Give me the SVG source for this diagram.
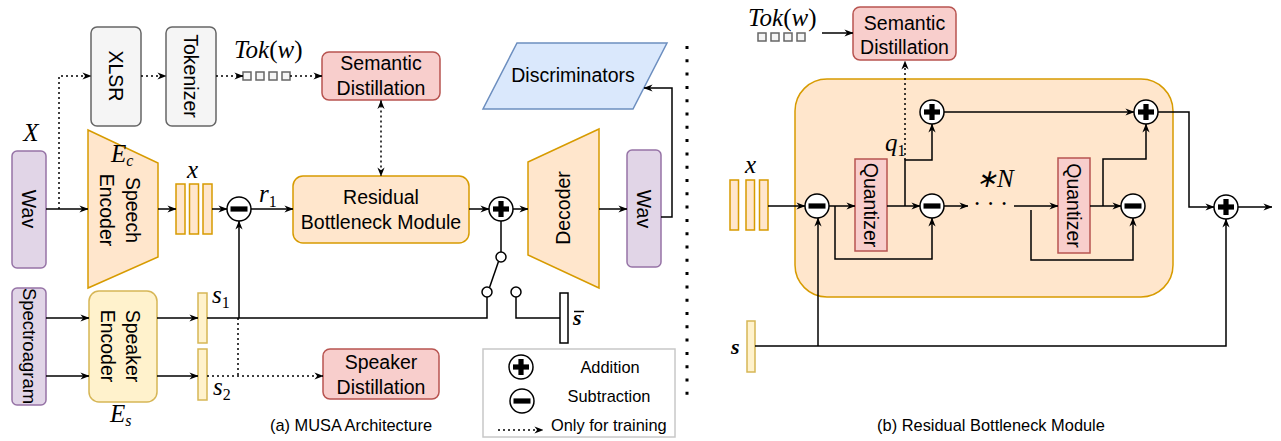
<svg xmlns="http://www.w3.org/2000/svg" width="1281" height="441" viewBox="0 0 1281 441">
<style>
.t{font-family:"Liberation Sans",Arial,sans-serif;font-size:19.5px;fill:#000}
.tc{text-anchor:middle}
.lg{font-family:"Liberation Sans",Arial,sans-serif;font-size:16.4px;fill:#000}
.m{font-family:"Liberation Serif","Times New Roman",serif;font-style:italic;font-size:25px;fill:#000}
.up{font-style:normal}
.sub{font-size:16px;font-style:normal}
.subi{font-size:16px}
.purple{fill:#e1d5e7;stroke:#9673a6;stroke-width:1.5}
.orange{fill:#ffe6cc;stroke:#d79b00;stroke-width:1.5}
.red{fill:#f8cecc;stroke:#b85450;stroke-width:1.5}
.yellow{fill:#fff2cc;stroke:#d6b656;stroke-width:1.5}
.gray{fill:#f5f5f5;stroke:#666666;stroke-width:1.5}
.blue{fill:#dae8fc;stroke:#6c8ebf;stroke-width:1.5}
.ln{fill:none;stroke:#000;stroke-width:1.5}
.dot{fill:none;stroke:#000;stroke-width:1.5;stroke-dasharray:2 3}
.arr{marker-end:url(#ah)}
</style>
<defs>
<marker id="ah" viewBox="0 0 10 10" refX="9.5" refY="5" markerWidth="9" markerHeight="9" markerUnits="userSpaceOnUse" orient="auto-start-reverse">
<path d="M0,1 L10,5 L0,9 L3,5 Z" fill="#000"/>
</marker>
<g id="opPlus"><circle r="12" fill="#fff" stroke="#000" stroke-width="1.5"/><rect x="-8" y="-2.6" width="16" height="5.2" fill="#000"/><rect x="-2.6" y="-8" width="5.2" height="16" fill="#000"/></g>
<g id="opMinus"><circle r="12" fill="#fff" stroke="#000" stroke-width="1.5"/><rect x="-8.5" y="-2.6" width="17" height="5.2" fill="#000"/></g>
</defs>
<rect width="1281" height="441" fill="#fff"/>

<!-- ===== (a) MUSA Architecture ===== -->
<g id="wav-in">
<rect class="purple" x="12" y="151" width="34" height="117" rx="5"/>
<text class="t tc" x="29" y="209" dominant-baseline="central" transform="rotate(90 29 209)">Wav</text>
<text class="m tc" x="31" y="141">X</text>
</g>
<g id="xlsr">
<rect class="gray" x="91" y="27" width="50" height="99" rx="6"/>
<text class="t tc" x="116" y="76" dominant-baseline="central" transform="rotate(90 116 76)">XLSR</text>
</g>
<g id="tokenizer">
<rect class="gray" x="166" y="27" width="50" height="99" rx="6"/>
<text class="t tc" x="191" y="76" dominant-baseline="central" transform="rotate(90 191 76)">Tokenizer</text>
</g>
<g id="tok-a">
<text class="m" x="234" y="58">Tok<tspan class="up">(</tspan>w<tspan class="up">)</tspan></text>
<rect class="gray" x="243" y="72" width="8" height="8"/>
<rect class="gray" x="256" y="72" width="8" height="8"/>
<rect class="gray" x="269" y="72" width="8" height="8"/>
<rect class="gray" x="282" y="72" width="8" height="8"/>
</g>
<g id="semantic-a">
<rect class="red" x="322" y="52" width="118" height="48" rx="7"/>
<text class="t tc" x="381" y="70">Semantic</text>
<text class="t tc" x="381" y="95">Distillation</text>
</g>
<g id="speech-encoder">
<path class="orange" d="M88,130 L158,163 L158,257 L88,288 Z"/>
<text class="t tc" x="120" y="210" dominant-baseline="central" transform="rotate(90 120 210)"><tspan x="120" dy="-13">Speech</tspan><tspan x="120" dy="26">Encoder</tspan></text>
<text class="m" x="111" y="162">E<tspan class="subi" dy="4">c</tspan></text>
</g>
<g id="x-a">
<rect class="orange" x="176" y="184" width="9" height="50"/>
<rect class="orange" x="189.5" y="184" width="9" height="50"/>
<rect class="orange" x="203" y="184" width="9" height="50"/>
<text class="m" x="187" y="178">x</text>
</g>
<g id="minus-a"><use href="#opMinus" x="239" y="209"/></g>
<text class="m" x="259" y="202">r<tspan class="sub" dy="5">1</tspan></text>
<g id="rbm-a">
<rect class="orange" x="293" y="176" width="176" height="67" rx="10"/>
<text class="t tc" x="381" y="204">Residual</text>
<text class="t tc" x="381" y="229">Bottleneck Module</text>
</g>
<g id="plus-a"><use href="#opPlus" x="501" y="209"/></g>
<g id="decoder">
<path class="orange" d="M528,162 L599,129 L599,288 L528,255 Z"/>
<text class="t tc" x="563" y="208" dominant-baseline="central" transform="rotate(-90 563 208)">Decoder</text>
</g>
<g id="wav-out">
<rect class="purple" x="627" y="150" width="34" height="117" rx="5"/>
<text class="t tc" x="644" y="209" dominant-baseline="central" transform="rotate(90 644 209)">Wav</text>
</g>
<g id="discriminators">
<path class="blue" d="M517,43 L667,43 L633,109 L483,109 Z"/>
<text class="t tc" x="573" y="82">Discriminators</text>
</g>
<g id="spectrogram">
<rect class="purple" x="12" y="288" width="34" height="117" rx="5"/>
<text class="t tc" x="29" y="346" dominant-baseline="central" style="font-size:18.5px" transform="rotate(90 29 346)">Spectroagram</text>
</g>
<g id="speaker-encoder">
<rect class="yellow" x="89" y="291" width="68" height="111" rx="10"/>
<text class="t tc" x="120.5" y="346" dominant-baseline="central" transform="rotate(90 120.5 346)"><tspan x="120.5" dy="-12.5">Speaker</tspan><tspan x="120.5" dy="25">Encoder</tspan></text>
<text class="m" x="110" y="422">E<tspan class="subi" dy="4">s</tspan></text>
</g>
<g id="s1">
<rect class="yellow" x="198" y="293" width="9" height="50"/>
<text class="m" x="212" y="303">s<tspan class="sub" dy="5">1</tspan></text>
</g>
<g id="s2">
<rect class="yellow" x="198" y="349" width="9" height="51"/>
<text class="m" x="213" y="395">s<tspan class="sub" dy="5">2</tspan></text>
</g>
<g id="speaker-distillation">
<rect class="red" x="323" y="349" width="116" height="50" rx="7"/>
<text class="t tc" x="381" y="369">Speaker</text>
<text class="t tc" x="381" y="394">Distillation</text>
</g>
<g id="switch">
<circle cx="501" cy="257" r="5" fill="#fff" stroke="#000" stroke-width="1.5"/>
<circle cx="487" cy="292" r="5" fill="#fff" stroke="#000" stroke-width="1.5"/>
<circle cx="516" cy="292" r="5" fill="#fff" stroke="#000" stroke-width="1.5"/>
</g>
<g id="s-bar">
<rect x="560" y="293" width="8" height="50" fill="#fff" stroke="#000" stroke-width="1.5"/>
<text class="m" x="573" y="325" style="font-weight:bold;font-size:22px">s</text>
<line x1="574" y1="311.5" x2="584" y2="311.5" stroke="#000" stroke-width="1.5"/>
</g>
<g id="legend">
<rect x="483" y="349" width="192" height="88" fill="#fff" stroke="#c8c8c8" stroke-width="1.5"/>
<use href="#opPlus" x="521" y="367"/>
<use href="#opMinus" x="522" y="401"/>
<text class="lg tc" x="610" y="373">Addition</text>
<text class="lg tc" x="609" y="402">Subtraction</text>
<text class="lg" x="551" y="431">Only for training</text>
</g>
<text class="lg tc" x="351" y="431">(a) MUSA Architecture</text>

<!-- separator -->
<line x1="687" y1="46" x2="687" y2="396" stroke="#000" stroke-width="3" stroke-dasharray="3 10.3"/>

<!-- ===== (b) Residual Bottleneck Module ===== -->
<g id="rbm-b">
<rect class="orange" x="795" y="79" width="378" height="218" rx="32"/>
</g>
<g id="tok-b">
<text class="m" x="748" y="26">Tok<tspan class="up">(</tspan>w<tspan class="up">)</tspan></text>
<rect class="gray" x="758" y="33" width="8" height="8"/>
<rect class="gray" x="771" y="33" width="8" height="8"/>
<rect class="gray" x="784" y="33" width="8" height="8"/>
<rect class="gray" x="797" y="33" width="8" height="8"/>
</g>
<g id="semantic-b">
<rect class="red" x="853" y="7" width="103" height="53" rx="7"/>
<text class="t tc" x="904.5" y="30">Semantic</text>
<text class="t tc" x="904.5" y="54">Distillation</text>
</g>
<g id="x-b">
<rect class="orange" x="730" y="180" width="8.5" height="50"/>
<rect class="orange" x="746" y="180" width="8.5" height="50"/>
<rect class="orange" x="759.5" y="180" width="8.5" height="50"/>
<text class="m" x="745" y="173">x</text>
</g>
<g id="minus1-b"><use href="#opMinus" x="817" y="206"/></g>
<g id="quantizer1">
<rect class="red" x="855" y="159" width="32" height="92"/>
<text class="t tc" x="871" y="205" dominant-baseline="central" transform="rotate(90 871 205)">Quantizer</text>
</g>
<g id="minus2-b"><use href="#opMinus" x="932" y="206"/></g>
<g id="plus1-b"><use href="#opPlus" x="932" y="112"/></g>
<text class="m" x="885" y="151">q<tspan class="sub" dy="5">1</tspan></text>
<text class="m" x="976" y="187">∗N</text>
<text x="977 990.5 1004" y="208" font-family="Liberation Serif, serif" font-size="12" text-anchor="middle">•••</text>
<g id="quantizer2">
<rect class="red" x="1058" y="158" width="32" height="95"/>
<text class="t tc" x="1074" y="205.5" dominant-baseline="central" transform="rotate(90 1074 205.5)">Quantizer</text>
</g>
<g id="minus3-b"><use href="#opMinus" x="1133" y="206"/></g>
<g id="plus2-b"><use href="#opPlus" x="1146" y="112"/></g>
<g id="plus3-b"><use href="#opPlus" x="1226" y="207"/></g>
<g id="s-b">
<rect class="yellow" x="747" y="321" width="8" height="51"/>
<text class="m" x="731" y="354" style="font-weight:bold;font-size:22px">s</text>
</g>
<text class="lg tc" x="991" y="431">(b) Residual Bottleneck Module</text>

<!-- ===== connectors ===== -->
<g id="connectors">
<path class="ln arr" d="M46,209 H88"/>
<path class="dot arr" d="M59,209 V76 H91"/>
<path class="dot arr" d="M141,76 H166"/>
<path class="dot arr" d="M216,76 H243"/>
<path class="dot arr" d="M290,76 H322"/>
<path class="ln arr" d="M158,209 H176"/>
<path class="ln arr" d="M212,209 H227"/>
<path class="ln arr" d="M251,209 H293"/>
<path class="dot arr" d="M381,100.5 V176" style="marker-start:url(#ah)"/>
<path class="ln" d="M207,318 H487 V297"/>
<path class="ln arr" d="M239,318 V221"/>
<path class="dot" d="M238,318 V376"/>
<path class="dot arr" d="M207,376 H323"/>
<path class="ln arr" d="M46,318 H89"/>
<path class="ln arr" d="M46,376 H89"/>
<path class="ln arr" d="M157,318 H198"/>
<path class="ln arr" d="M157,376 H198"/>
<path class="ln arr" d="M469,209 H489"/>
<path class="ln arr" d="M513,209 H528"/>
<path class="ln" d="M501,221 V252"/>
<path class="ln" d="M498.5,261.5 L489.5,287.5"/>
<path class="ln" d="M516,297 V318 H560"/>
<path class="ln arr" d="M599,209 H627"/>
<path class="ln arr" d="M661,217 H672 V88 H644"/>
<path class="dot arr" d="M498,430 H543"/>

<path class="ln arr" d="M822,33 H853"/>
<path class="ln arr" d="M768,206 H805"/>
<path class="ln arr" d="M829,206 H855"/>
<path class="ln arr" d="M887,206 H920"/>
<path class="ln arr" d="M905,206 V160 H932 V124"/>
<path class="dot arr" d="M905,160 V61"/>
<path class="ln arr" d="M835,206 V259 H932 V218"/>
<path class="ln arr" d="M818,346 V218"/>
<path class="ln arr" d="M944,206 H968"/>
<path class="ln arr" d="M1014,206 H1058"/>
<path class="ln arr" d="M1090,206 H1121"/>
<path class="ln arr" d="M1103,206 V159 H1146 V124"/>
<path class="ln arr" d="M1031,210 V260 H1133 V218"/>
<path class="ln arr" d="M944,112 H1134"/>
<path class="ln arr" d="M1158,112 H1189 V207 H1214"/>
<path class="ln arr" d="M1238,207 H1272"/>
<path class="ln arr" d="M755,346 H1226 V219"/>
</g>
</svg>
